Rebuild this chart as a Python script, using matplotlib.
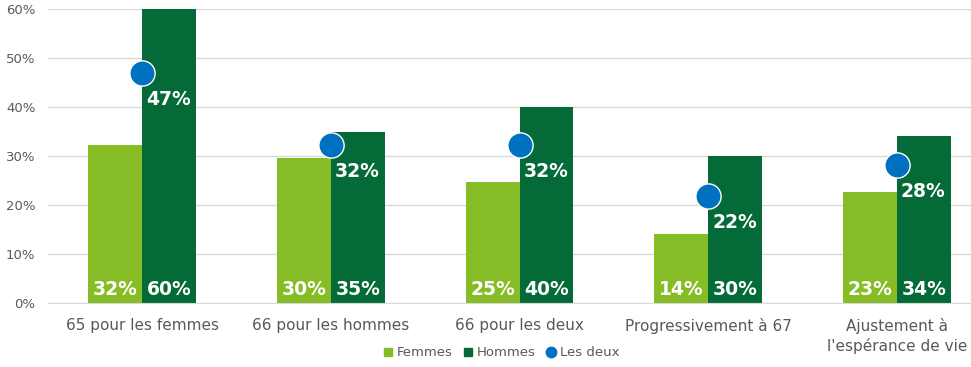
import numpy as np
import matplotlib
matplotlib.use("Agg")
import matplotlib.pyplot as plt
from matplotlib.ticker import PercentFormatter
from matplotlib.lines import Line2D

# data
categories = ["65 pour les femmes", "66 pour les hommes", "66 pour les deux",
              "Progressivement à 67", "Ajustement à\nl'espérance de vie"]
femmes = [32.3, 29.5, 24.6, 14.0, 22.6]
hommes = [60.0, 35.0, 40.0, 30.0, 34.1]
les_deux = [47.0, 32.3, 32.3, 21.8, 28.2]

c_f = "#86BC25"
c_h = "#046A38"
c_d = "#0070C0"
grey = "#595959"

plt.rcParams["font.family"] = ["DejaVu Sans"]

fig = plt.figure(figsize=(9.71, 3.67), dpi=100)
ax = fig.add_axes([48 / 971, 64 / 367, 943 / 971, 294 / 367])

x = np.arange(len(categories))
w = 0.286

ax.bar(x - w / 2, femmes, w, color=c_f, zorder=2)
ax.bar(x + w / 2, hommes, w, color=c_h, zorder=2)
ax.scatter(x, les_deux, s=330, color=c_d, edgecolor="white", linewidth=1, zorder=4)

# labels at the bottom of the bars
for xi, v in zip(x - w / 2, femmes):
    ax.annotate(f"{v:.0f}%", (xi, 0), xytext=(0, 10), textcoords="offset points",
                ha="center", va="center", color="white", fontsize=13.5, fontweight="bold", zorder=5)
for xi, v in zip(x + w / 2, hommes):
    ax.annotate(f"{v:.0f}%", (xi, 0), xytext=(0, 10), textcoords="offset points",
                ha="center", va="center", color="white", fontsize=13.5, fontweight="bold", zorder=5)
# labels for les deux
for xi, v in zip(x, les_deux):
    ax.annotate(f"{v:.0f}%", (xi, v), xytext=(3, -19), textcoords="offset points",
                ha="left", va="center", color="white", fontsize=13.5, fontweight="bold", zorder=5)

ax.set_xlim(-0.5, len(categories) - 0.5)
ax.set_ylim(0, 60)
ax.set_yticks(np.arange(0, 61, 10))
ax.yaxis.set_major_formatter(PercentFormatter(decimals=0))
ax.set_xticks(x)
ax.set_xticklabels(categories, fontsize=11, color=grey, linespacing=1.3)
ax.tick_params(axis="y", length=0, pad=9, labelsize=9.5, labelcolor=grey)
ax.tick_params(axis="x", length=0, pad=11)
ax.grid(axis="y", color="#D9D9D9", linewidth=1, zorder=0)
ax.set_axisbelow(True)
for s in ["top", "right", "left"]:
    ax.spines[s].set_visible(False)
ax.spines["bottom"].set_color("#D9D9D9")

handles = [
    Line2D([], [], marker="s", linestyle="none", color=c_f, markersize=5.5),
    Line2D([], [], marker="s", linestyle="none", color=c_h, markersize=5.5),
    Line2D([], [], marker="o", linestyle="none", color=c_d, markersize=7.5),
]
fig.legend(handles, ["Femmes", "Hommes", "Les deux"], loc="center", bbox_to_anchor=(501 / 971, 14 / 367),
           ncol=3, frameon=False, fontsize=9.5, handletextpad=0.25, columnspacing=0.8,
           handlelength=0.8, labelcolor=grey)

fig.savefig("out.png", dpi=100)
